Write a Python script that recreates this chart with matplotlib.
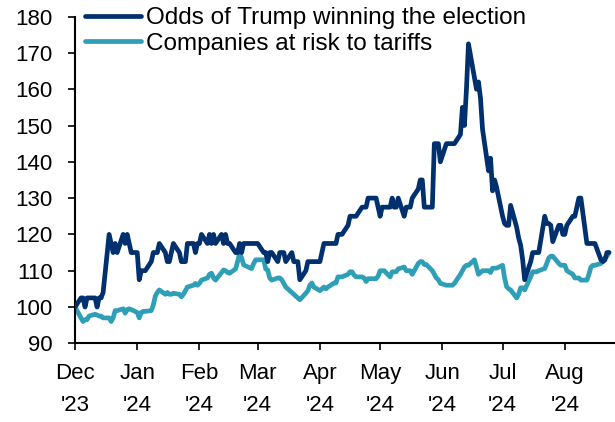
import pandas as pd
import matplotlib
matplotlib.use("Agg")
import matplotlib.pyplot as plt

plt.rcParams['font.family'] = ['Liberation Sans', 'DejaVu Sans']

# daily (business day) index levels, one month per line
odds = [
    100, 102.5, 102.5, 100, 102.5, 102.5, 102.5, 100, 102.5, 102.5, 104, 120, 117.5, 115, 117.5, 115, 120, 117.5, 120, 117.5, 115,  # Dec
    115, 107.5, 110, 110, 110, 112.5, 115, 115, 115, 117.5, 115, 112.5, 112.5, 115, 117.5, 115, 112.5, 112.5, 112.5, 117.5, 117.5, 115, 117.5,  # Jan
    117.5, 120, 117.5, 120, 117.5, 120, 117.5, 120, 117.5, 120, 117.5, 117.5, 115, 115, 117.5, 115, 117.5, 117.5, 117.5, 117.5, 117.5,  # Feb
    117.5, 115, 115, 112.5, 115, 115, 112.5, 115, 115, 115, 112.5, 115, 112.5, 112.5, 112.5, 107.5, 110, 112.5, 112.5, 112.5, 112.5,  # Mar
    112.5, 115, 117.5, 117.5, 117.5, 117.5, 117.5, 120, 120, 120, 122.5, 125, 125, 125, 125, 127.5, 127.5, 127.5, 130, 130, 130, 127.5,  # Apr
    125, 127.5, 127.5, 127.5, 130, 127.5, 127.5, 130, 125, 127.5, 127.5, 127.5, 130, 132.5, 135, 135, 127.5, 127.5, 127.5, 145, 145, 145, 140,  # May
    145, 145, 145, 145, 145, 147.5, 155, 150, 160, 172.5, 163, 160, 162, 157.5, 149, 137.5, 141, 132, 135, 133,  # Jun
    125, 123, 122.5, 122.5, 128, 122, 119, 117, 113, 107.5, 112.5, 115, 115, 115, 115, 125, 123, 123, 122.5, 118, 122.5, 122.5, 120,  # Jul
    120, 122.5, 125, 125, 127.5, 130, 130, 117.5, 117.5, 117.5, 117.5, 117.5, 113, 112.5, 113, 115, 115,  # Aug
]
companies = [
    100, 97, 96, 96.5, 96.5, 97.5, 98, 97.8, 97.5, 97.5, 97, 97, 96, 97, 99, 99, 99.5, 98.3, 99.3, 99.5, 99.3,  # Dec
    98.5, 97, 98.5, 98.8, 98.8, 99, 100.5, 103, 104, 104.7, 103.5, 104, 103.5, 103.5, 103.8, 103.5, 102.8, 103.5, 104.5, 105.5, 106, 106.5, 106,  # Jan
    106.5, 107.4, 108, 109, 109.3, 108, 107.4, 109.5, 110.2, 110, 109.5, 109.3, 110.5, 112.5, 114.8, 113.5, 111.6, 110.8, 110.6, 112, 113,  # Feb
    113, 113, 110.5, 110.2, 108, 107.4, 108, 108, 107.5, 106.5, 105.5, 104, 103.5, 103, 102.5, 102, 103.8, 104.5, 106, 106.6, 105.5,  # Mar
    104.5, 105, 105.5, 105, 105.5, 106.6, 106.6, 108.3, 108.3, 108.3, 109, 109.7, 109.7, 108.8, 108.3, 108.3, 108, 107, 107.8, 107.8, 107.8, 108.5,  # Apr
    110, 110, 110, 108.3, 109.7, 109.7, 109.7, 110.5, 111, 110, 110, 110, 109, 112, 112.5, 112.5, 111.7, 111.7, 110, 109, 108, 107.5, 106.5,  # May
    106, 106, 106, 106, 106.5, 109, 110, 111, 111.5, 111.5, 113, 111, 109, 109.5, 110, 110, 109.5, 110.7, 110.7, 110.7,  # Jun
    111.5, 108, 105.6, 105, 104.7, 102.5, 103.5, 105.3, 105.3, 104.7, 108.3, 109.7, 109.7, 109.7, 110, 110.6, 112, 113.5, 114, 114, 112, 111.5, 111.5,  # Jul
    111.5, 110, 109, 108, 108, 108, 107.4, 107.4, 109, 111, 111.5, 111.5, 112, 113, 113.5, 114, 115,  # Aug
]
dates = pd.bdate_range('2023-12-01', periods=len(odds))

month_ticks = pd.date_range('2023-12-01', '2024-08-01', freq='MS')
month_labels = ["Dec\n'23", "Jan\n'24", "Feb\n'24", "Mar\n'24", "Apr\n'24",
                "May\n'24", "Jun\n'24", "Jul\n'24", "Aug\n'24"]

navy = '#00306e'
teal = '#2e9fb7'

fig = plt.figure(figsize=(6.15, 4.22), dpi=100)
ax = fig.add_axes([75 / 615, 1 - 343.3 / 422, 540 / 615, 326.7 / 422])

ax.plot(dates, odds, color=navy, lw=3.4, solid_joinstyle='round', solid_capstyle='round',
        label='Odds of Trump winning the election', zorder=3)
ax.plot(dates, companies, color=teal, lw=3.4, solid_joinstyle='round', solid_capstyle='round',
        label='Companies at risk to tariffs', zorder=2)

ax.set_ylim(90, 180)
ax.set_yticks(range(90, 181, 10))
ax.set_xlim(pd.Timestamp('2023-12-01'), pd.Timestamp('2024-08-26'))
ax.set_xticks(month_ticks)
ax.set_xticklabels(month_labels, linespacing=1.68)

for s in ['top', 'right']:
    ax.spines[s].set_visible(False)
for s in ['left', 'bottom']:
    ax.spines[s].set_linewidth(1.5)
ax.xaxis.set_tick_params(labelsize=16, direction='out', length=5, width=1.2, pad=9)
ax.yaxis.set_tick_params(labelsize=16, direction='out', length=5, width=1.2, pad=11)

leg = ax.legend(loc='upper left', bbox_to_anchor=(0.0185, 1.028), frameon=False, fontsize=17.5,
                handlelength=2.3, handletextpad=0.2, labelspacing=0.13, borderpad=0,
                borderaxespad=0)

fig.savefig('out.png', dpi=100)
